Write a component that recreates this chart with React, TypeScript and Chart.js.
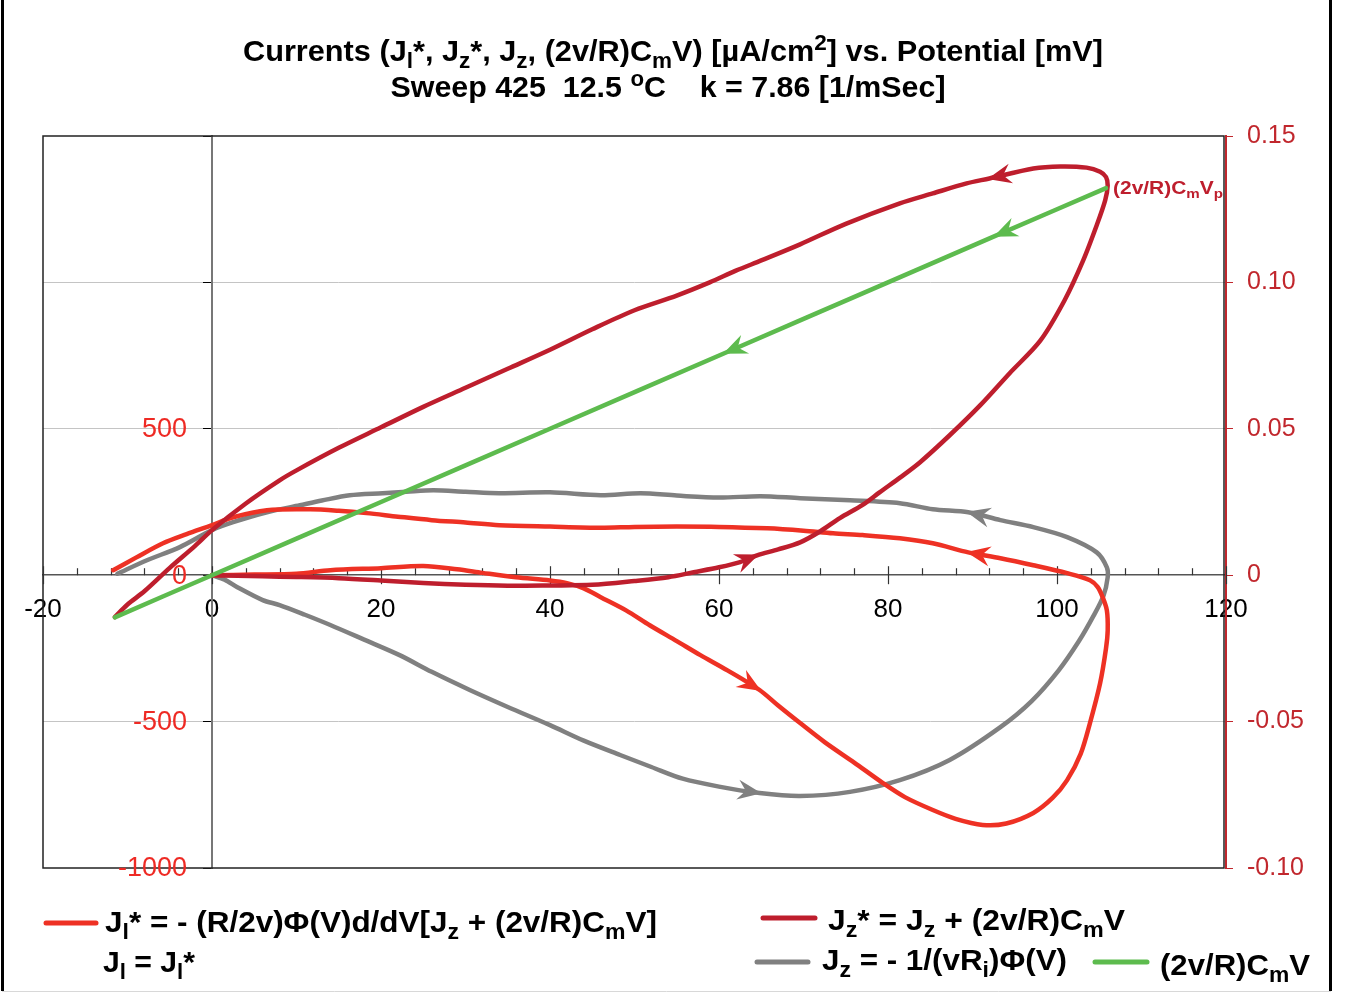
import React, { useEffect, useRef } from 'react';
import { Chart, registerables } from 'chart.js';
Chart.register(...registerables);

const W = 1346;
const H = 993;
const FONT = '"Liberation Sans", Arial, Helvetica, sans-serif';

// ---- Data (potential V [mV], current J [µA/cm²]) in sweep order ----
// Jz* = Jz + (2v/R)CmV  (dark red)
const jzStarV = [0, 3, 6, 10, 15, 20, 25, 30, 35, 40, 45, 50, 54, 57, 60, 62.5, 64.5, 67, 69.6, 72, 74.3, 77, 79, 81.5, 83.8, 87.3, 90.9, 94.4, 98, 100.9, 103.1, 104.7, 105.7, 106, 105.8, 105.1, 103.5, 100.4, 97.2, 92, 89.3, 85.3, 81.4, 75, 69.6, 65, 62, 58.9, 55, 50, 45, 40, 35, 30, 25, 20, 15, 10, 8, 4, 0, -2, -5, -8, -10, -11.5];
const jzStarJ = [0, -2, -4, -6, -10, -18, -27, -33, -36, -35, -33, -20, -7, 10, 27, 45, 68, 88, 112, 150, 195, 240, 283, 335, 386, 478, 580, 690, 800, 939, 1075, 1195, 1280, 1331, 1360, 1378, 1392, 1396, 1389, 1355, 1338, 1304, 1270, 1200, 1130, 1075, 1040, 1000, 955, 905, 840, 770, 705, 640, 575, 505, 435, 358, 324, 245, 154, 100, 25, -55, -100, -143];

// Jl* (bright red)
const jlStarV = [0, 5, 10, 14, 20, 25, 29, 32, 36, 40, 42, 44, 46, 49, 51.8, 55, 57.8, 61, 64.8, 67, 69.6, 72.5, 76, 79.4, 82, 85.3, 88, 91.2, 94, 97.2, 99.5, 101.2, 102.8, 103.9, 105.1, 105.8, 106, 105.9, 105.4, 104.8, 103.9, 101.2, 97.2, 93.3, 89.5, 85.3, 81.4, 77, 73.5, 70, 65.7, 60, 55, 50, 46, 40, 34, 30, 26, 22, 18.3, 15, 11.6, 6.5, 2.5, 0, -3, -5.8, -9, -11.7];
const jlStarJ = [0, 2, 5, 17, 24, 31, 20, 8, -7, -18, -27, -45, -75, -120, -171, -225, -273, -325, -392, -445, -505, -570, -640, -710, -758, -802, -832, -853, -848, -812, -760, -700, -610, -505, -369, -250, -188, -120, -75, -40, -17, 7, 34, 58, 78, 109, 126, 137, 143, 152, 160, 165, 166, 165, 162, 166, 171, 180, 188, 200, 212, 220, 225, 222, 198, 171, 140, 109, 60, 17];

// Jz = -1/(vRi)Φ(V)  (gray)
const jzV = [0, 1.5, 3, 6, 8, 11, 14, 18, 22.2, 26, 30.5, 35, 40, 44, 48.3, 52, 55.7, 60, 64.8, 69.6, 75.5, 81.4, 87.3, 93.3, 97, 100.2, 102.6, 104.3, 105.5, 106, 105.9, 104.7, 101.2, 97.2, 93.3, 89.5, 85.3, 81.4, 75.5, 69.6, 64.9, 60, 55, 50.7, 46, 40, 34, 30, 26.2, 23, 20.2, 16.3, 13, 10.4, 6.5, 2.5, 0, -3.8, -7.7, -11.2];
const jzJ = [0, -15, -41, -85, -102, -135, -170, -220, -273, -330, -392, -450, -512, -565, -614, -655, -695, -722, -744, -754, -740, -700, -631, -519, -430, -325, -225, -140, -70, -7, 27, 78, 130, 164, 188, 215, 225, 246, 256, 263, 270, 265, 272, 280, 273, 283, 280, 285, 290, 285, 280, 273, 255, 239, 215, 181, 154, 96, 51, 5];

// (2v/R)CmV  (green)
const cmV = [105.8, 92.7, 80, 60.7, 40, 20, 0, -11.5];
const cmJ = [1322, 1159, 1000, 759, 500, 250, 0, -144];

// Axes
const xMin = -20, xMax = 120, xStep = 20, xMinorStep = 4;
const yMin = -1000, yMax = 1500, yStep = 500, yLabelMax = 500;
const y2Min = -0.10, y2Max = 0.15, y2Step = 0.05;

// Colors
const C_GREEN = '#5dbb4e';
const C_DARKRED = '#be1e2d';
const C_RED = '#ee3124';
const C_GRAY = '#808080';

// arrow tips: dataset index, V, J (arrow points along sweep direction)
const arrowSpecs = [
  { ds: 0, v: 92.7, j: 1159 },
  { ds: 0, v: 60.7, j: 759 },
  { ds: 1, v: 64.5, j: 68 },
  { ds: 1, v: 92, j: 1355 },
  { ds: 2, v: 64.8, j: -392 },
  { ds: 2, v: 89.5, j: 78 },
  { ds: 3, v: 64.8, j: -744 },
  { ds: 3, v: 89.5, j: 215 },
];

type Seg = { t: string; s?: 'sub' | 'sup' };
const title1: Seg[] = [
  { t: 'Currents (J' }, { t: 'l', s: 'sub' }, { t: '*, J' }, { t: 'z', s: 'sub' }, { t: '*, J' }, { t: 'z', s: 'sub' },
  { t: ', (2v/R)C' }, { t: 'm', s: 'sub' }, { t: 'V) [µA/cm' }, { t: '2', s: 'sup' }, { t: '] vs. Potential [mV]' },
];
const title2: Seg[] = [{ t: 'Sweep 425  12.5 ' }, { t: 'o', s: 'sup' }, { t: 'C    k = 7.86 [1/mSec]' }];
const legJl: Seg[] = [{ t: 'J' }, { t: 'l', s: 'sub' }, { t: '* = - (R/2v)Φ(V)d/dV[J' }, { t: 'z', s: 'sub' }, { t: ' + (2v/R)C' }, { t: 'm', s: 'sub' }, { t: 'V]' }];
const legJl2: Seg[] = [{ t: 'J' }, { t: 'l', s: 'sub' }, { t: ' = J' }, { t: 'l', s: 'sub' }, { t: '*' }];
const legJzStar: Seg[] = [{ t: 'J' }, { t: 'z', s: 'sub' }, { t: '* = J' }, { t: 'z', s: 'sub' }, { t: ' + (2v/R)C' }, { t: 'm', s: 'sub' }, { t: 'V' }];
const legJz: Seg[] = [{ t: 'J' }, { t: 'z', s: 'sub' }, { t: ' = - 1/(vR' }, { t: 'i', s: 'sub' }, { t: ')Φ(V)' }];
const legCm: Seg[] = [{ t: '(2v/R)C' }, { t: 'm', s: 'sub' }, { t: 'V' }];
const annot: Seg[] = [{ t: '(2v/R)C' }, { t: 'm', s: 'sub' }, { t: 'V' }, { t: 'p', s: 'sub' }];

function drawRich(ctx: CanvasRenderingContext2D, segs: Seg[], x: number, y: number, size: number, color: string, align: 'left' | 'center', targetW?: number) {
  const f = (s?: string) => `bold ${s ? Math.round(size * 0.74) : size}px ${FONT}`;
  let w = 0;
  for (const sg of segs) { ctx.font = f(sg.s); w += ctx.measureText(sg.t).width; }
  const sx = targetW ? targetW / w : 1;
  ctx.save();
  ctx.textBaseline = 'alphabetic';
  ctx.textAlign = 'left';
  ctx.fillStyle = color;
  ctx.translate(align === 'center' ? x - (w * sx) / 2 : x, y);
  ctx.scale(sx, 1);
  let cx = 0;
  for (const sg of segs) {
    ctx.font = f(sg.s);
    const dy = sg.s === 'sub' ? size * 0.24 : sg.s === 'sup' ? -size * 0.38 : 0;
    ctx.fillText(sg.t, cx, dy);
    cx += ctx.measureText(sg.t).width;
  }
  ctx.restore();
}

function drawArrow(ctx: CanvasRenderingContext2D, tx: number, ty: number, fx: number, fy: number, color: string) {
  const ang = Math.atan2(ty - fy, tx - fx);
  const L = 22, Wd = 10, notch = 14;
  ctx.save();
  ctx.translate(tx, ty);
  ctx.rotate(ang);
  ctx.beginPath();
  ctx.moveTo(2, 0);
  ctx.lineTo(-L, -Wd);
  ctx.lineTo(-notch, 0);
  ctx.lineTo(-L, Wd);
  ctx.closePath();
  ctx.fillStyle = color;
  ctx.fill();
  ctx.restore();
}

const decor = {
  id: 'decor',
  beforeDraw(chart: any) {
    const ctx = chart.ctx;
    ctx.save();
    ctx.fillStyle = '#fff';
    ctx.fillRect(0, 0, chart.width, chart.height);
    ctx.restore();
  },
  beforeDatasetsDraw(chart: any) {
    const ctx: CanvasRenderingContext2D = chart.ctx;
    const a = chart.chartArea;
    const xs = chart.scales.x;
    const ys = chart.scales.y;
    ctx.save();
    // plot border
    ctx.strokeStyle = '#222';
    ctx.lineWidth = 1.5;
    ctx.strokeRect(a.left, a.top, a.right - 2 - a.left, a.bottom - a.top);
    // x axis ticks at y = 0
    const y0 = ys.getPixelForValue(0);
    ctx.strokeStyle = '#333';
    ctx.lineWidth = 1.2;
    for (let v = xMin; v <= xMax + 1e-9; v += xMinorStep) {
      const px = Math.round(xs.getPixelForValue(v)) + 0.5;
      const major = Math.abs(v / xStep - Math.round(v / xStep)) < 1e-9;
      ctx.beginPath();
      if (major) { ctx.moveTo(px, y0 - 9); ctx.lineTo(px, y0 + 9); }
      else { ctx.moveTo(px, y0 - 7); ctx.lineTo(px, y0); }
      ctx.stroke();
    }
    // left y labels (red), placed left of the V = 0 axis
    const x0 = xs.getPixelForValue(0);
    ctx.fillStyle = '#ee2a24';
    ctx.font = `27px ${FONT}`;
    ctx.textAlign = 'right';
    ctx.textBaseline = 'middle';
    for (const t of ys.ticks) {
      if (t.value > yLabelMax) continue;
      ctx.fillText(String(t.value), x0 - 25, ys.getPixelForValue(t.value) + 1);
    }
    ctx.restore();
  },
  afterDatasetsDraw(chart: any) {
    const ctx: CanvasRenderingContext2D = chart.ctx;
    const arrays = [[cmV, cmJ], [jzStarV, jzStarJ], [jlStarV, jlStarJ], [jzV, jzJ]];
    for (const s of arrowSpecs) {
      const [V, J] = arrays[s.ds];
      let idx = -1;
      for (let i = 0; i < V.length; i++) if (V[i] === s.v && J[i] === s.j) { idx = i; break; }
      if (idx < 1) continue;
      const meta = chart.getDatasetMeta(s.ds);
      const p = meta.data[idx];
      const q = meta.data[idx - 1];
      drawArrow(ctx, p.x, p.y, q.x, q.y, chart.data.datasets[s.ds].borderColor);
    }
    // annotation near peak of green line
    const xs = chart.scales.x;
    const ys = chart.scales.y;
    const px = xs.getPixelForValue(cmV[0]);
    const py = ys.getPixelForValue(cmJ[0]);
    drawRich(ctx, annot, px + 7, py + 6, 18, C_DARKRED, 'left', 110);
  },
  afterDraw(chart: any) {
    const ctx: CanvasRenderingContext2D = chart.ctx;
    // title
    drawRich(ctx, title1, 673, 61, 30, '#000', 'center', 860);
    drawRich(ctx, title2, 668, 97, 30, '#000', 'center', 555);
    // legend
    ctx.save();
    ctx.lineCap = 'round';
    ctx.lineWidth = 5;
    const seg = (x1: number, x2: number, y: number, c: string) => {
      ctx.strokeStyle = c; ctx.beginPath(); ctx.moveTo(x1, y); ctx.lineTo(x2, y); ctx.stroke();
    };
    seg(46, 96, 923, C_RED);
    seg(763, 815, 918, C_DARKRED);
    seg(757, 808, 962, C_GRAY);
    seg(1095, 1147, 962, C_GREEN);
    ctx.restore();
    drawRich(ctx, legJl, 105, 932, 30, '#000', 'left', 552);
    drawRich(ctx, legJl2, 103, 972, 30, '#000', 'left', 92);
    drawRich(ctx, legJzStar, 828, 930, 30, '#000', 'left', 297);
    drawRich(ctx, legJz, 822, 970, 30, '#000', 'left', 245);
    drawRich(ctx, legCm, 1160, 975, 30, '#000', 'left', 150);
    // outer frame
    ctx.save();
    ctx.strokeStyle = '#000';
    ctx.lineWidth = 3;
    ctx.beginPath();
    ctx.moveTo(2.5, 0); ctx.lineTo(2.5, 991);
    ctx.moveTo(1330.5, 0); ctx.lineTo(1330.5, 991);
    ctx.stroke();
    ctx.strokeStyle = '#d8d8d8';
    ctx.lineWidth = 1;
    ctx.beginPath();
    ctx.moveTo(2, 991.5); ctx.lineTo(1331, 991.5);
    ctx.stroke();
    ctx.restore();
  },
};

const pts = (V: number[], J: number[]) => V.map((v, i) => ({ x: v, y: J[i] }));

export default function App() {
  const ref = useRef<HTMLCanvasElement>(null);
  useEffect(() => {
    const mk = (label: string, V: number[], J: number[], color: string) => ({
      label, data: pts(V, J), borderColor: color, backgroundColor: color, borderWidth: 4.5,
      pointRadius: 0, tension: 0.3, fill: false, borderCapStyle: 'round', borderJoinStyle: 'round', yAxisID: 'y',
    });
    const chart = new Chart(ref.current as HTMLCanvasElement, {
      type: 'line',
      data: {
        datasets: [
          mk('(2v/R)CmV', cmV, cmJ, C_GREEN),
          mk('Jz* = Jz + (2v/R)CmV', jzStarV, jzStarJ, C_DARKRED),
          mk('Jl* = - (R/2v)Φ(V)d/dV[Jz + (2v/R)CmV]', jlStarV, jlStarJ, C_RED),
          mk('Jz = - 1/(vRi)Φ(V)', jzV, jzJ, C_GRAY),
        ] as any,
      },
      options: {
        responsive: false,
        animation: false,
        events: [],
        layout: { padding: { top: 136, left: 43, right: 0, bottom: 125 } },
        plugins: { legend: { display: false }, title: { display: false }, tooltip: { enabled: false } },
        scales: {
          x: {
            type: 'linear', min: xMin, max: xMax, position: { y: 0 } as any,
            ticks: { stepSize: xStep, color: '#000', font: { size: 26, family: FONT }, padding: 19, autoSkip: false, maxRotation: 0 },
            grid: { display: false, drawTicks: false },
            border: { display: true, color: '#555', width: 1.5 },
          },
          y: {
            type: 'linear', min: yMin, max: yMax, position: { x: 0 } as any,
            ticks: { stepSize: yStep, display: false },
            grid: {
              color: (c: any) => (c.tick && (c.tick.value === 0 || c.tick.value === yMax || c.tick.value === yMin)) ? 'rgba(0,0,0,0)' : '#c4c4c4',
              lineWidth: 1, tickColor: '#000', tickLength: 8, drawTicks: true,
            },
            border: { display: true, color: '#777', width: 2 },
          },
          y2: {
            type: 'linear', position: 'right', min: y2Min, max: y2Max,
            ticks: {
              stepSize: y2Step, color: '#c1272d', font: { size: 25, family: FONT }, padding: 14,
              callback: (v: any) => (Math.abs(v) < 1e-9 ? '0' : Number(v).toFixed(2)),
            },
            grid: { drawOnChartArea: false, color: '#c1272d', tickLength: 7 },
            border: { display: true, color: '#c1272d', width: 2 },
            afterFit: (s: any) => { s.width = 120; },
          },
        } as any,
      },
      plugins: [decor],
    } as any);
    return () => chart.destroy();
  }, []);
  return (
    <div style={{ position: 'absolute', left: 0, top: 0, width: W, height: H, background: '#fff' }}>
      <canvas ref={ref} width={W} height={H} style={{ display: 'block', width: W, height: H }} />
    </div>
  );
}
